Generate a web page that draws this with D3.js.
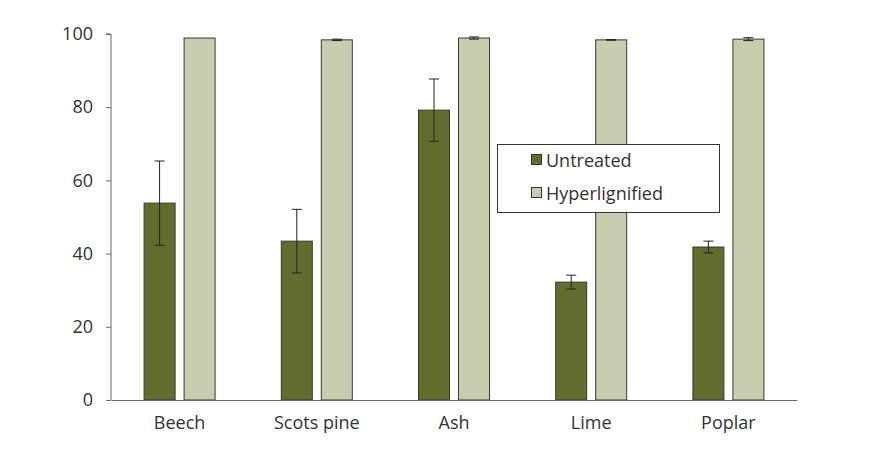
<!DOCTYPE html>
<html><head><meta charset="utf-8">
<script src="https://cdn.jsdelivr.net/npm/d3@7"></script>
<style>body{margin:0;background:#fff}svg{display:block}text{font-family:"Open Sans","Noto Sans",sans-serif;fill:#333}</style>
</head><body><svg id="c" width="886" height="453"></svg>
<script>
const categories = ["Beech","Scots pine","Ash","Lime","Poplar"];
const seriesNames = ["Untreated","Hyperlignified"];
const untreated = [53.8, 43.4, 79.2, 32.2, 41.8];
const untreatedErr = [11.5, 8.7, 8.5, 1.9, 1.6];
const hyper = [98.9, 98.4, 98.9, 98.4, 98.6];
const hyperErr = [0, 0.2, 0.3, 0.1, 0.4];
const yTicks = [0,20,40,60,80,100];
const colors = ["#616d2f","#c9cdb0"];

const svg = d3.select("#c");
const m = {l:111, r:797, t:34, b:400};
const x = d3.scaleBand().domain(categories).range([m.l, m.r]);
const y = d3.scaleLinear().domain([0,100]).range([m.b, m.t]);
const bw = 31, off = 20;

const data = categories.map((c,i)=>({c, vals:[{v:untreated[i],e:untreatedErr[i],s:0},{v:hyper[i],e:hyperErr[i],s:1}]}));

const g = svg.append("g");
data.forEach(d=>{
  d.vals.forEach(p=>{
    const cx = x(d.c)+x.bandwidth()/2 + (p.s===0?-off:off);
    g.append("rect").attr("x",cx-bw/2).attr("y",y(p.v)).attr("width",bw).attr("height",y(0)-y(p.v))
      .attr("fill",colors[p.s]).attr("stroke","#3a3a2a").attr("stroke-width",1);
    if(p.e>0){
      const e = g.append("g").attr("stroke","#222").attr("stroke-width",1);
      e.append("line").attr("x1",cx).attr("x2",cx).attr("y1",y(p.v+p.e)).attr("y2",y(p.v-p.e));
      e.append("line").attr("x1",cx-5).attr("x2",cx+5).attr("y1",y(p.v+p.e)).attr("y2",y(p.v+p.e));
      e.append("line").attr("x1",cx-5).attr("x2",cx+5).attr("y1",y(p.v-p.e)).attr("y2",y(p.v-p.e));
    }
  });
});

// y axis
const ya = svg.append("g").attr("transform",`translate(${m.l},0)`)
  .call(d3.axisLeft(y).tickValues(yTicks).tickSize(5).tickPadding(13));
ya.select(".domain").attr("stroke","#666").attr("d",`M-5,${y(100)}H0V${y(0)}`);
ya.selectAll(".tick line").attr("stroke","#666");
ya.selectAll(".tick text").style("font-size","18px").attr("fill","#333");

// x axis
const xa = svg.append("g").attr("transform",`translate(0,${m.b})`)
  .call(d3.axisBottom(x).tickSize(0).tickPadding(16));
xa.select(".domain").attr("stroke","#666");
xa.selectAll(".tick text").style("font-size","18px").attr("fill","#333");

// legend
const lg = svg.append("g");
lg.append("rect").attr("x",497.5).attr("y",144.5).attr("width",222).attr("height",68)
  .attr("fill","#fff").attr("stroke","#333");
seriesNames.forEach((s,i)=>{
  const yy = 160 + i*33;
  lg.append("rect").attr("x",531.5).attr("y",yy-5.5).attr("width",10).attr("height",10)
    .attr("fill",colors[i]).attr("stroke","#333");
  lg.append("text").attr("x",546).attr("y",yy+6.5).text(s).style("font-size","18px");
});
</script></body></html>
